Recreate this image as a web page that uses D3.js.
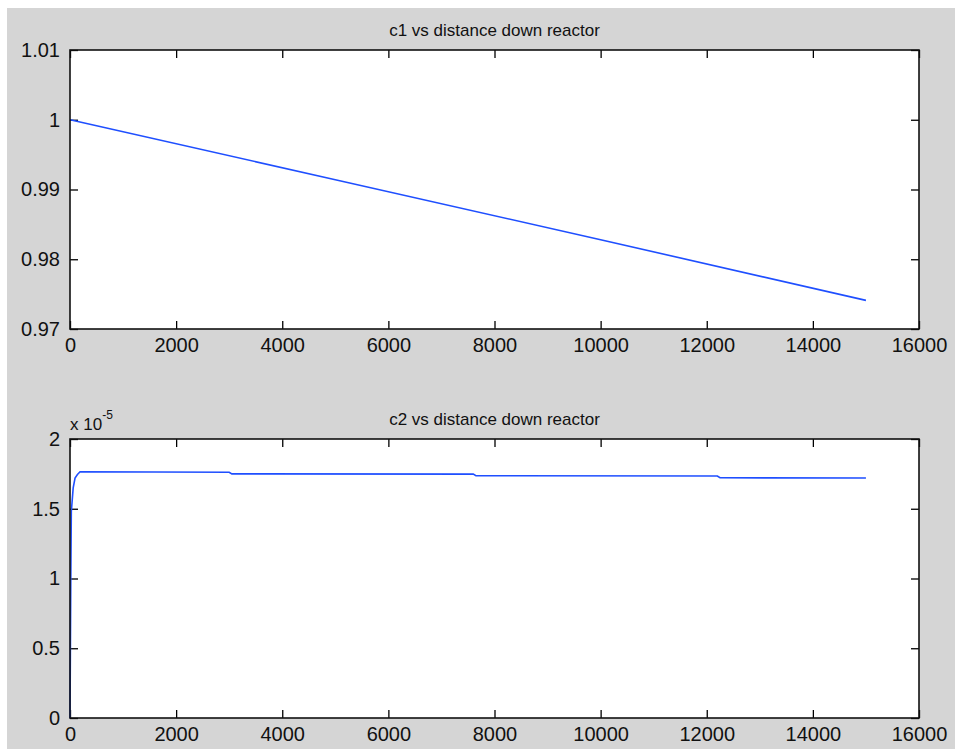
<!DOCTYPE html>
<html lang="en">
<head>
<meta charset="UTF-8">
<title>c1 c2 vs distance down reactor</title>
<script src="https://d3js.org/d3.v7.min.js"></script>
<style>
    html, body {
        margin: 0;
        background: #fff;
    }
    .tick text {
        font-family: "Liberation Sans", Arial, sans-serif;
        font-size: 20px;
        fill: #111;
    }
    .ttl {
        font-family: "Liberation Sans", Arial, sans-serif;
        font-size: 17px;
        fill: #111;
    }
</style>
</head>
<body>
<div id="vis"></div>
<script>
// distance down reactor
var c1_x = [0, 5000, 10000, 15000];
var c1_y = [1.0, 0.9914, 0.9828, 0.9741];

// c2 values in units of 1e-5
var c2_x = [0, 15, 25, 60, 95, 140, 190, 3000, 3050, 7600, 7650, 12200, 12250, 15000];
var c2_y = [0, 1.0, 1.48, 1.65, 1.72, 1.745, 1.765, 1.762, 1.750, 1.748, 1.737, 1.735, 1.722, 1.720];

var x_ticks = [0, 2000, 4000, 6000, 8000, 10000, 12000, 14000, 16000];
var c1_ticks = [0.97, 0.98, 0.99, 1.0, 1.01];
var c2_ticks = [0, 0.5, 1, 1.5, 2];

var W = 955, H = 749;

var svg = d3.select('#vis')
    .append('svg')
    .attr('width', W)
    .attr('height', H);

svg.append('rect')
    .attr('x', 7)
    .attr('y', 8)
    .attr('width', W - 7)
    .attr('height', H - 8)
    .attr('fill', '#d5d5d5');

function panel(top, xs, ys, ydomain, yticks, yfmt, title) {
    var left = 70, w = 849, h = 279;
    var g = svg.append('g')
        .attr('transform', 'translate(' + left + ',' + top + ')');

    var x_scale = d3.scaleLinear().domain([0, 16000]).range([0, w]);
    var y_scale = d3.scaleLinear().domain(ydomain).range([h, 0]);

    g.append('rect')
        .attr('width', w)
        .attr('height', h)
        .attr('fill', '#fff');

    g.append('g')
        .attr('transform', 'translate(0,' + h + ')')
        .call(d3.axisBottom(x_scale).tickValues(x_ticks).tickSizeInner(-8).tickSizeOuter(0).tickPadding(9).tickFormat(d3.format('d')));
    g.append('g')
        .call(d3.axisTop(x_scale).tickValues(x_ticks).tickSizeInner(-8).tickSizeOuter(0).tickFormat(''));
    g.append('g')
        .call(d3.axisLeft(y_scale).tickValues(yticks).tickSizeInner(-8).tickSizeOuter(0).tickPadding(10).tickFormat(yfmt));
    g.append('g')
        .attr('transform', 'translate(' + w + ',0)')
        .call(d3.axisRight(y_scale).tickValues(yticks).tickSizeInner(-8).tickSizeOuter(0).tickFormat(''));

    g.selectAll('.domain').remove();
    g.selectAll('.tick line').attr('stroke', '#000').attr('stroke-width', 1.3);

    var pts = xs.map(function(d, i) { return [d, ys[i]]; });
    var line = d3.line()
        .x(function(d) { return x_scale(d[0]); })
        .y(function(d) { return y_scale(d[1]); });

    g.append('path')
        .datum(pts)
        .attr('d', line)
        .attr('fill', 'none')
        .attr('stroke', '#1f4fff')
        .attr('stroke-width', 1.6);

    g.append('rect')
        .attr('width', w)
        .attr('height', h)
        .attr('fill', 'none')
        .attr('stroke', '#111')
        .attr('stroke-width', 1.6);

    g.append('text')
        .attr('class', 'ttl')
        .attr('x', w / 2)
        .attr('y', -14)
        .attr('text-anchor', 'middle')
        .text(title);
    return g;
}

panel(50, c1_x, c1_y, [0.97, 1.01], c1_ticks, function(d) { return d3.format('.2~f')(d); }, 'c1 vs distance down reactor');
var g2 = panel(439, c2_x, c2_y, [0, 2], c2_ticks, function(d) { return d3.format('~g')(d); }, 'c2 vs distance down reactor');

var ex = g2.append('text')
    .attr('class', 'ttl')
    .attr('x', 0)
    .attr('y', -9);
ex.append('tspan').text('x 10');
ex.append('tspan').attr('dy', -11).attr('font-size', 12).text('-5');
</script>
</body>
</html>
